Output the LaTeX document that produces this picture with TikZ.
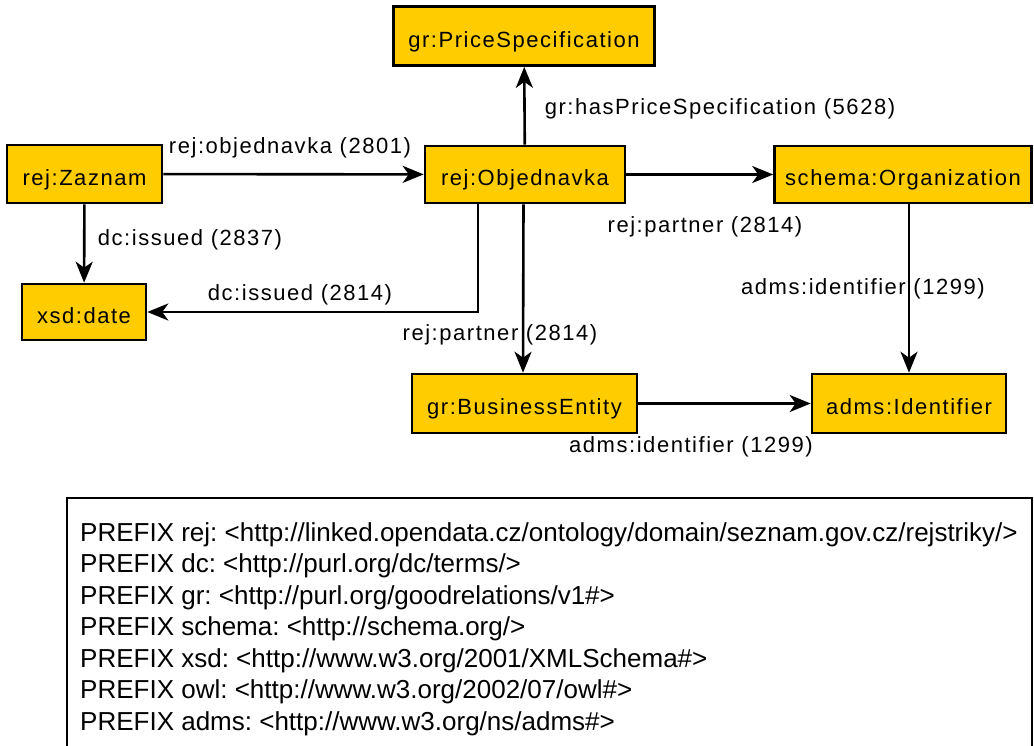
\documentclass[tikz,border=0pt]{standalone}
\usepackage{fontspec}
\setmainfont{Liberation Sans}
\newfontfamily\graphfont[LetterSpace=7]{Liberation Sans}
\usetikzlibrary{arrows.meta}
\definecolor{classfill}{RGB}{255,204,0}
\frenchspacing

\begin{document}
\begin{tikzpicture}[x=1pt,y=-1pt,
  cls/.style={draw=black, line width=2.6pt, fill=classfill, inner sep=0pt,
    text height=22.8pt, text depth=0pt,
    font=\graphfont\fontsize{22}{26}\selectfont},
  lbl/.style={inner sep=0pt, text height=15.8pt, text depth=0pt,
    font=\graphfont\fontsize{22}{26}\selectfont},
  rel/.style={line width=2.6pt, -{Stealth[length=21pt,width=17pt,inset=6pt]}},
  legendbox/.style={draw=black, line width=1.6pt, fill=white, inner sep=0pt,
    minimum width=965pt, minimum height=300pt, anchor=north west},
  legendtext/.style={inner sep=0pt, anchor=north west, align=left,
    font=\fontsize{26}{31.5}\selectfont}]
\useasboundingbox (0,0) rectangle (1034,745);
\clip (0,0) rectangle (1034,745);

% class nodes
\node[cls, minimum width=261pt, minimum height=59pt] (price) at (524,36) {gr:PriceSpecification};
\node[cls, minimum width=155pt, minimum height=58pt] (zaznam) at (84.5,174) {rej:Zaznam};
\node[cls, minimum width=200pt, minimum height=57pt] (obj) at (525,174.5) {rej:Objednavka};
\node[cls, minimum width=257pt, minimum height=57pt] (org) at (903,174.5) {schema:Organization};
\node[cls, minimum width=124pt, minimum height=56pt] (date) at (84,312) {xsd:date};
\node[cls, minimum width=225pt, minimum height=59pt] (be) at (524.5,403.5) {gr:BusinessEntity};
\node[cls, minimum width=194pt, minimum height=59pt] (ident) at (909,403.5) {adms:Identifier};

% relations
\draw[rel] (zaznam) -- (obj);
\draw[rel] (zaznam) -- (date);
\draw[rel] ([xshift=-47pt]obj.south) |- (date.east);
\draw[rel] (obj) -- (price);
\draw[rel] (obj) -- (org);
\draw[rel] ([xshift=-1.5pt]obj.south) -- ([xshift=-1.5pt]be.north);
\draw[rel] (ident.north |- org.south) -- (ident.north);
\draw[rel] (be) -- (ident);

% relation labels
\node[lbl] (l1) at (290,146) {rej:objednavka (2801)};
\node[lbl] (l2) at (190,238) {dc:issued (2837)};
\node[lbl] (l3) at (300,293) {dc:issued (2814)};
\node[lbl] (l4) at (720,107) {gr:hasPriceSpecification (5628)};
\node[lbl] (l5) at (705,225) {rej:partner (2814)};
\node[lbl] (l6) at (500,333) {rej:partner (2814)};
\node[lbl] (l7) at (863,287) {adms:identifier (1299)};
\node[lbl] (l8) at (691,445) {adms:identifier (1299)};

% prefix legend
\node[legendbox] (legend) at (66,497) {};
\node[legendtext] (prefixes) at (80,522) {%
PREFIX rej: <http://linked.opendata.cz/ontology/domain/seznam.gov.cz/rejstriky/>\\
PREFIX dc: <http://purl.org/dc/terms/>\\
PREFIX gr: <http://purl.org/goodrelations/v1\#>\\
PREFIX schema: <http://schema.org/>\\
PREFIX xsd: <http://www.w3.org/2001/XMLSchema\#>\\
PREFIX owl: <http://www.w3.org/2002/07/owl\#>\\
PREFIX adms: <http://www.w3.org/ns/adms\#>};
\end{tikzpicture}
\end{document}
